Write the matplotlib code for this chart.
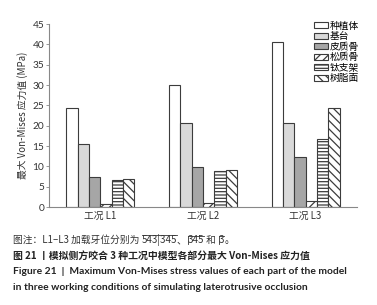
import matplotlib
matplotlib.use("Agg")
import matplotlib.pyplot as plt
import numpy as np

plt.rcParams['font.family'] = ['Noto Sans CJK SC', 'DejaVu Sans']
plt.rcParams['hatch.linewidth'] = 0.9

conditions = ["工况 L1", "工况 L2", "工况 L3"]
parts = ["种植体", "基台", "皮质骨", "松质骨", "钛支架", "树脂面"]
implant = [24.3, 30.1, 40.6]
abutment = [15.5, 20.7, 20.7]
cortical = [7.5, 9.8, 12.4]
cancellous = [0.8, 1.0, 1.5]
ti_frame = [6.7, 8.9, 16.7]
resin = [6.9, 9.1, 24.3]
yticks = [0, 5, 10, 15, 20, 25, 30, 35, 40, 45]

series = [implant, abutment, cortical, cancellous, ti_frame, resin]
fills = ['white', '#d9d9d9', '#a6a6a6', 'white', 'white', 'white']
hatches = [None, None, None, '////', '-----', '\\\\\\\\']

fig = plt.figure(figsize=(3.77, 3.05), dpi=100)
ax = fig.add_axes([0.130, 0.321, 0.817, 0.600])

x = np.arange(len(conditions))
w = 0.11
for i, (vals, fc, h) in enumerate(zip(series, fills, hatches)):
    ax.bar(x + (i - 2.5) * w, vals, w, color=fc, edgecolor='#3c3c3c',
           linewidth=0.8, hatch=h, label=parts[i])

ax.set_xlim(-0.5, 2.5)
ax.set_ylim(0, 45)
ax.set_yticks(yticks)
ax.set_xticks(x)
ax.set_xticklabels(conditions, fontsize=7, color='#333333')
ax.tick_params(axis='x', length=0, pad=3)
ax.tick_params(axis='y', labelsize=7.3, length=2.5, width=0.6, color='#888888',
               labelcolor='#333333', pad=1)
for lbl in ax.get_yticklabels():
    lbl.set_family(['Lato', 'DejaVu Sans'])
for s in ['top', 'right']:
    ax.spines[s].set_visible(False)
for s in ['left', 'bottom']:
    ax.spines[s].set_color('#888888')
    ax.spines[s].set_linewidth(0.8)
ax.set_ylabel("最大 Von-Mises 应力值 (MPa)", fontsize=7, color='#333333', labelpad=3)

ax.legend(loc='upper right', bbox_to_anchor=(1.02, 1.04), fontsize=7, frameon=False,
          handlelength=1.4, handleheight=0.6, handletextpad=0.2, labelspacing=0.05,
          borderaxespad=0)

# caption
cap_font = ['Noto Sans CJK SC', 'DejaVu Sans']
fig.canvas.draw()
renderer = fig.canvas.get_renderer()

def put(xpx, ypx, s, over=False, bar=False, **kw):
    t = fig.text(xpx / 377, 1 - ypx / 305, s, va='center', ha='left', **kw)
    bb = t.get_window_extent(renderer)
    if over:
        y0 = bb.y1 - 1
        fig.add_artist(plt.Line2D([bb.x0 / 377, bb.x1 / 377], [y0 / 305, y0 / 305],
                                  color='#333333', lw=0.6))
    if bar:
        fig.add_artist(plt.Line2D([bb.x0 / 377, bb.x0 / 377], [(bb.y0 + 1) / 305, (bb.y1 - 1) / 305],
                                  color='#333333', lw=0.6))
    return bb.x1

kw = dict(fontsize=7, color='#333333', family=cap_font)
xp = put(13, 240, "图注：L1–L3 加载牙位分别为 ", **kw)
xp = put(xp, 240, "543|345", over=True, **kw)
xp = put(xp, 240, "、", **kw)
xp = put(xp + 1, 240, "345", over=True, bar=True, **kw)
xp = put(xp, 240, " 和 ", **kw)
xp = put(xp + 1, 240, "3", over=True, bar=True, **kw)
xp = put(xp, 240, "。", **kw)

put(13, 256, "图 21 丨模拟侧方咬合 3 种工况中模型各部分最大 Von-Mises 应力值",
    fontsize=7.1, color='#222222', weight='bold', family=cap_font)
put(13, 272, "Figure 21  |  Maximum Von-Mises stress values of each part of the model",
    fontsize=7.4, color='#222222', weight='bold', family=['Lato', 'DejaVu Sans'])
put(13, 288, "in three working conditions of simulating laterotrusive occlusion",
    fontsize=7.4, color='#222222', weight='bold', family=['Lato', 'DejaVu Sans'])

fig.savefig("out.png", dpi=100)
